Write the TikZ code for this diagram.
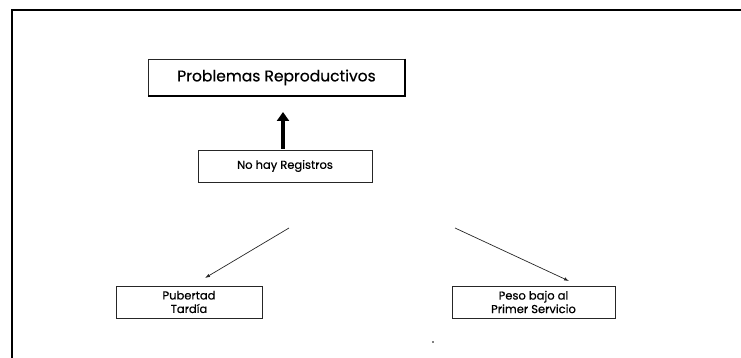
\documentclass[tikz,border=0pt]{standalone}
\usepackage{fontspec}
\setmainfont{Poppins}
\newfontfamily\medfont[FakeBold=0.6]{Poppins}
\usetikzlibrary{arrows.meta}
\begin{document}
\begin{tikzpicture}[x=1pt,y=-1pt,
  box/.style={draw=black!85, line width=0.7pt, rectangle, inner sep=0pt, align=center},
  thin arrow/.style={draw=black!85, line width=0.7pt, -{Latex[length=5pt,width=3.5pt]}},
  big arrow/.style={draw=black, line width=4.5pt, -{Triangle[length=9pt,width=12pt]}}]
\useasboundingbox (0,0) rectangle (741,358);
% outer frame (top and left edges)
\coordinate (fr) at (741,10);
\coordinate (fc) at (12,10);
\coordinate (fb) at (12,358);
\draw[line width=1.2pt] (fr) -- (fc) -- (fb);
% nodes
\node[box, minimum width=257pt, minimum height=37pt, font=\medfont\fontsize{15.5}{17}\selectfont] (top) at (276.5,77.5) {Problemas Reproductivos};
\draw[line width=1.8pt] (top.north east) -- (top.south east) -- (top.south west);
\node[box, minimum width=174pt, minimum height=32pt, font=\medfont\fontsize{11.5}{13}\selectfont] (mid) at (285,166) {No hay Registros};
\node[box, minimum width=146pt, minimum height=32pt, font=\medfont\fontsize{11.5}{13.5}\selectfont] (pub) at (189,302) {Pubertad\\Tardía};
\node[box, minimum width=163pt, minimum height=32pt, font=\medfont\fontsize{11.5}{13.5}\selectfont] (peso) at (533.5,302) {Peso bajo al\\Primer Servicio};
% connectors
\coordinate (a0) at (283,149);
\coordinate (a1) at (283,112);
\draw[big arrow] (a0) -- (a1);
\coordinate (l0) at (289,228);
\coordinate (l1) at (205,278);
\coordinate (r0) at (455,228);
\coordinate (r1) at (569,281);
\draw[thin arrow] (l0) -- (l1);
\draw[thin arrow] (r0) -- (r1);
% small speck
\coordinate (dot) at (433,342);
\fill (dot) circle (0.9pt);
\end{tikzpicture}
\end{document}
